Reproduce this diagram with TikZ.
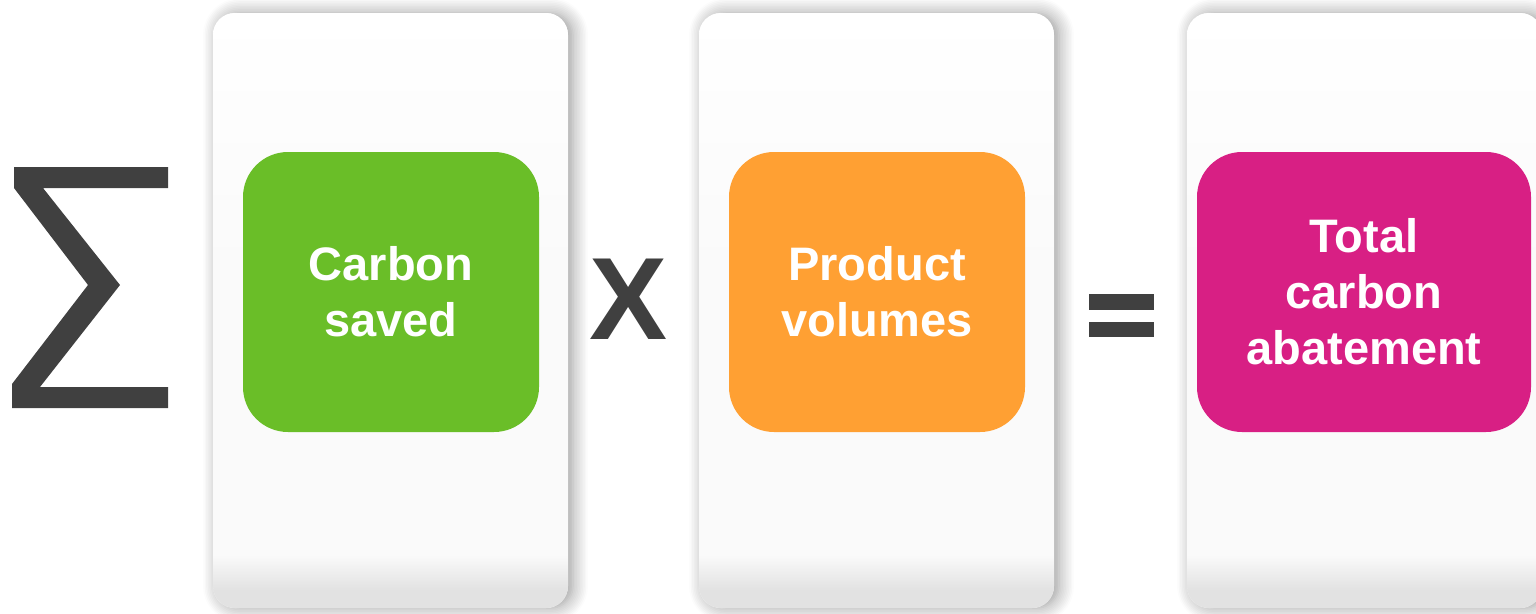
\documentclass[tikz,border=0pt]{standalone}
\usepackage{fontspec}
\setmainfont{Liberation Sans}
\usetikzlibrary{shadows.blur}

\definecolor{signgray}{HTML}{404040}
\definecolor{cardmid}{HTML}{FAFAFA}
\definecolor{cardbot}{HTML}{E2E2E2}
\definecolor{leafgreen}{HTML}{6ABE28}
\definecolor{amber}{HTML}{FFA033}
\definecolor{berry}{HTML}{D81F84}

\tikzset{
  card/.style={
    minimum width=355pt, minimum height=595pt, inner sep=0pt,
    rounded corners=22pt, fill=cardmid,
    blur shadow={shadow xshift=5pt, shadow yshift=0pt,
                 shadow blur radius=15pt, shadow blur steps=10,
                 shadow opacity=40},
    path picture={
      \begin{scope}[sharp corners]
      \shade[top color=white, bottom color=cardmid]
        (path picture bounding box.north west)
        rectangle ([yshift=-260pt]path picture bounding box.north east);
      \shade[top color=cardmid, bottom color=cardbot]
        ([yshift=53pt]path picture bounding box.south west)
        rectangle ([yshift=18pt]path picture bounding box.south east);
      \fill[cardbot]
        ([yshift=18pt]path picture bounding box.south west)
        rectangle (path picture bounding box.south east);
      \end{scope}
    }},
  termbox/.style={
    minimum width=296pt, minimum height=280pt, inner sep=0pt,
    rounded corners=45pt, text=white, align=center,
    font=\fontsize{47}{56}\selectfont\bfseries},
  opsign/.style={text=signgray, inner sep=0pt,
    font=\fontsize{117}{117}\selectfont\bfseries}
}

\begin{document}
\begin{tikzpicture}[x=1pt, y=-1pt]
  \useasboundingbox (0,0) rectangle (1536,613);

  % summation sign
  \fill[signgray] (14,167) -- (168,167) -- (168,188) -- (43,188)
    -- (120,285) -- (40,387) -- (168,387) -- (168,408) -- (12,408)
    -- (12,384) -- (88,285) -- (14,188) -- cycle;

  % background cards
  \node[card] (card1) at (390.5,310.5) {};
  \node[card] (card2) at (876.5,310.5) {};
  \node[card] (card3) at (1364.5,310.5) {};

  % terms of the product
  \node[termbox, fill=leafgreen] (saved) at (391,292) {Carbon\\saved};
  \node[termbox, fill=amber] (volumes) at (877,292) {Product\\volumes};
  \node[termbox, fill=berry, minimum width=334pt] (total) at (1364,292)
    {Total\\carbon\\abatement};

  % operators
  \node[opsign] (times) at (629,299) {X};
  \fill[signgray] (1089,294) rectangle (1154,310);
  \fill[signgray] (1089,322) rectangle (1154,337);
\end{tikzpicture}
\end{document}
